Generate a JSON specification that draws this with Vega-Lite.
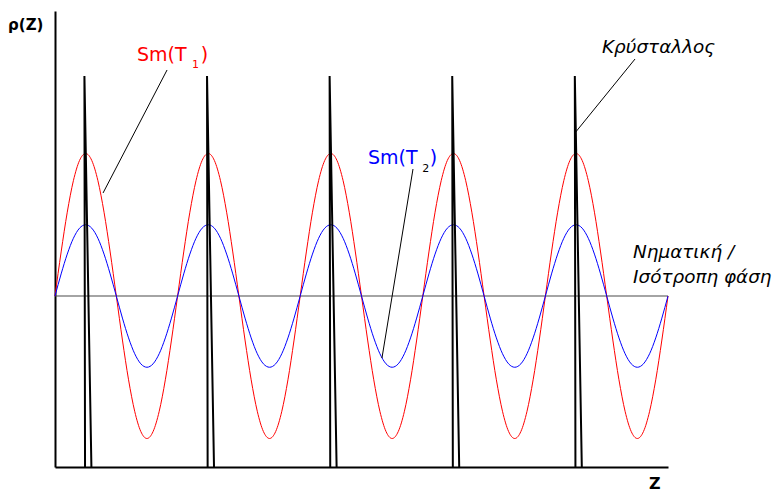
{
  "$schema": "https://vega.github.io/schema/vega-lite/v6.json",
  "width": 613,
  "height": 456,
  "autosize": {"type": "none"},
  "padding": {"left": 55, "top": 11, "right": 112, "bottom": 26},
  "background": "white",
  "config": {"view": {"stroke": null}, "text": {"font": "DejaVu Sans"}},
  "datasets": {
    "wave": [
      {"x":0,"r":0,"b":0},{"x":0.05,"r":0.309,"b":0.155},{"x":0.1,"r":0.588,"b":0.294},{"x":0.15,"r":0.809,"b":0.405},{"x":0.2,"r":0.951,"b":0.476},{"x":0.25,"r":1,"b":0.5},{"x":0.3,"r":0.951,"b":0.476},{"x":0.35,"r":0.809,"b":0.405},{"x":0.4,"r":0.588,"b":0.294},{"x":0.45,"r":0.309,"b":0.155},{"x":0.5,"r":0,"b":0},{"x":0.55,"r":-0.309,"b":-0.155},{"x":0.6,"r":-0.588,"b":-0.294},{"x":0.65,"r":-0.809,"b":-0.405},{"x":0.7,"r":-0.951,"b":-0.476},{"x":0.75,"r":-1,"b":-0.5},{"x":0.8,"r":-0.951,"b":-0.476},{"x":0.85,"r":-0.809,"b":-0.405},{"x":0.9,"r":-0.588,"b":-0.294},{"x":0.95,"r":-0.309,"b":-0.155},
      {"x":1,"r":0,"b":0},{"x":1.05,"r":0.309,"b":0.155},{"x":1.1,"r":0.588,"b":0.294},{"x":1.15,"r":0.809,"b":0.405},{"x":1.2,"r":0.951,"b":0.476},{"x":1.25,"r":1,"b":0.5},{"x":1.3,"r":0.951,"b":0.476},{"x":1.35,"r":0.809,"b":0.405},{"x":1.4,"r":0.588,"b":0.294},{"x":1.45,"r":0.309,"b":0.155},{"x":1.5,"r":0,"b":0},{"x":1.55,"r":-0.309,"b":-0.155},{"x":1.6,"r":-0.588,"b":-0.294},{"x":1.65,"r":-0.809,"b":-0.405},{"x":1.7,"r":-0.951,"b":-0.476},{"x":1.75,"r":-1,"b":-0.5},{"x":1.8,"r":-0.951,"b":-0.476},{"x":1.85,"r":-0.809,"b":-0.405},{"x":1.9,"r":-0.588,"b":-0.294},{"x":1.95,"r":-0.309,"b":-0.155},
      {"x":2,"r":0,"b":0},{"x":2.05,"r":0.309,"b":0.155},{"x":2.1,"r":0.588,"b":0.294},{"x":2.15,"r":0.809,"b":0.405},{"x":2.2,"r":0.951,"b":0.476},{"x":2.25,"r":1,"b":0.5},{"x":2.3,"r":0.951,"b":0.476},{"x":2.35,"r":0.809,"b":0.405},{"x":2.4,"r":0.588,"b":0.294},{"x":2.45,"r":0.309,"b":0.155},{"x":2.5,"r":0,"b":0},{"x":2.55,"r":-0.309,"b":-0.155},{"x":2.6,"r":-0.588,"b":-0.294},{"x":2.65,"r":-0.809,"b":-0.405},{"x":2.7,"r":-0.951,"b":-0.476},{"x":2.75,"r":-1,"b":-0.5},{"x":2.8,"r":-0.951,"b":-0.476},{"x":2.85,"r":-0.809,"b":-0.405},{"x":2.9,"r":-0.588,"b":-0.294},{"x":2.95,"r":-0.309,"b":-0.155},
      {"x":3,"r":0,"b":0},{"x":3.05,"r":0.309,"b":0.155},{"x":3.1,"r":0.588,"b":0.294},{"x":3.15,"r":0.809,"b":0.405},{"x":3.2,"r":0.951,"b":0.476},{"x":3.25,"r":1,"b":0.5},{"x":3.3,"r":0.951,"b":0.476},{"x":3.35,"r":0.809,"b":0.405},{"x":3.4,"r":0.588,"b":0.294},{"x":3.45,"r":0.309,"b":0.155},{"x":3.5,"r":0,"b":0},{"x":3.55,"r":-0.309,"b":-0.155},{"x":3.6,"r":-0.588,"b":-0.294},{"x":3.65,"r":-0.809,"b":-0.405},{"x":3.7,"r":-0.951,"b":-0.476},{"x":3.75,"r":-1,"b":-0.5},{"x":3.8,"r":-0.951,"b":-0.476},{"x":3.85,"r":-0.809,"b":-0.405},{"x":3.9,"r":-0.588,"b":-0.294},{"x":3.95,"r":-0.309,"b":-0.155},
      {"x":4,"r":0,"b":0},{"x":4.05,"r":0.309,"b":0.155},{"x":4.1,"r":0.588,"b":0.294},{"x":4.15,"r":0.809,"b":0.405},{"x":4.2,"r":0.951,"b":0.476},{"x":4.25,"r":1,"b":0.5},{"x":4.3,"r":0.951,"b":0.476},{"x":4.35,"r":0.809,"b":0.405},{"x":4.4,"r":0.588,"b":0.294},{"x":4.45,"r":0.309,"b":0.155},{"x":4.5,"r":0,"b":0},{"x":4.55,"r":-0.309,"b":-0.155},{"x":4.6,"r":-0.588,"b":-0.294},{"x":4.65,"r":-0.809,"b":-0.405},{"x":4.7,"r":-0.951,"b":-0.476},{"x":4.75,"r":-1,"b":-0.5},{"x":4.8,"r":-0.951,"b":-0.476},{"x":4.85,"r":-0.809,"b":-0.405},{"x":4.9,"r":-0.588,"b":-0.294},{"x":4.95,"r":-0.309,"b":-0.155},
      {"x":5,"r":0,"b":0}
    ],
    "spikes": [
      {"s":0,"o":0,"x":0.245,"y":-1.2},{"s":0,"o":1,"x":0.24,"y":1.544},{"s":0,"o":2,"x":0.297,"y":-1.2},
      {"s":1,"o":0,"x":1.245,"y":-1.2},{"s":1,"o":1,"x":1.24,"y":1.544},{"s":1,"o":2,"x":1.297,"y":-1.2},
      {"s":2,"o":0,"x":2.245,"y":-1.2},{"s":2,"o":1,"x":2.24,"y":1.544},{"s":2,"o":2,"x":2.297,"y":-1.2},
      {"s":3,"o":0,"x":3.245,"y":-1.2},{"s":3,"o":1,"x":3.24,"y":1.544},{"s":3,"o":2,"x":3.297,"y":-1.2},
      {"s":4,"o":0,"x":4.245,"y":-1.2},{"s":4,"o":1,"x":4.24,"y":1.544},{"s":4,"o":2,"x":4.297,"y":-1.2}
    ],
    "leaders": [
      {"id":1,"o":0,"x":0.914,"y":1.586},{"id":1,"o":1,"x":0.392,"y":0.723},
      {"id":2,"o":0,"x":2.92,"y":0.891},{"id":2,"o":1,"x":2.667,"y":-0.435},
      {"id":3,"o":0,"x":4.731,"y":1.663},{"id":3,"o":1,"x":4.241,"y":1.144}
    ]
  },
  "layer": [
    {
      "data": {"values": [{"x":0,"x2":5,"y":0}]},
      "mark": {"type": "rule", "color": "#4a4a4a", "strokeWidth": 1.2},
      "encoding": {
        "x": {"field":"x","type":"quantitative","scale":{"domain":[0,5],"nice":false,"zero":false},
              "axis":{"orient":"bottom","domain":true,"domainColor":"black","domainWidth":2,"ticks":false,"labels":false,"grid":false,"title":null}},
        "x2": {"field":"x2"},
        "y": {"field":"y","type":"quantitative","scale":{"domain":[-1.2,2.0],"nice":false,"zero":false},
              "axis":{"orient":"left","domain":true,"domainColor":"black","domainWidth":2,"ticks":false,"labels":false,"grid":false,"title":null}}
      }
    },
    {
      "data": {"name": "wave"},
      "mark": {"type": "line", "color": "#ff0000", "strokeWidth": 1, "interpolate": "monotone"},
      "encoding": {
        "x": {"field":"x","type":"quantitative"},
        "y": {"field":"r","type":"quantitative"}
      }
    },
    {
      "data": {"name": "wave"},
      "mark": {"type": "line", "color": "#0000ff", "strokeWidth": 1, "interpolate": "monotone"},
      "encoding": {
        "x": {"field":"x","type":"quantitative"},
        "y": {"field":"b","type":"quantitative"}
      }
    },
    {
      "data": {"name": "spikes"},
      "mark": {"type": "line", "color": "black", "strokeWidth": 2},
      "encoding": {
        "x": {"field":"x","type":"quantitative"},
        "y": {"field":"y","type":"quantitative"},
        "detail": {"field":"s"},
        "order": {"field":"o"}
      }
    },
    {
      "data": {"name": "leaders"},
      "mark": {"type": "line", "color": "black", "strokeWidth": 1},
      "encoding": {
        "x": {"field":"x","type":"quantitative"},
        "y": {"field":"y","type":"quantitative"},
        "detail": {"field":"id"},
        "order": {"field":"o"}
      }
    },
    {
      "data": {"values": [{"t":"Sm(T","x":0.669,"y":1.649},{"t":")","x":1.188,"y":1.649}]},
      "mark": {"type": "text", "color": "#ff0000", "fontSize": 19, "align": "left", "baseline": "alphabetic"},
      "encoding": {"x": {"field":"x","type":"quantitative"}, "y": {"field":"y","type":"quantitative"}, "text": {"field":"t"}}
    },
    {
      "data": {"values": [{"t":"1","x":1.118,"y":1.6}]},
      "mark": {"type": "text", "color": "#ff0000", "fontSize": 11, "align": "left", "baseline": "alphabetic"},
      "encoding": {"x": {"field":"x","type":"quantitative"}, "y": {"field":"y","type":"quantitative"}, "text": {"field":"t"}}
    },
    {
      "data": {"values": [{"t":"Sm(T","x":2.553,"y":0.926},{"t":")","x":3.056,"y":0.926}]},
      "mark": {"type": "text", "color": "#0000ff", "fontSize": 19, "align": "left", "baseline": "alphabetic"},
      "encoding": {"x": {"field":"x","type":"quantitative"}, "y": {"field":"y","type":"quantitative"}, "text": {"field":"t"}}
    },
    {
      "data": {"values": [{"t":"2","x":2.995,"y":0.87}]},
      "mark": {"type": "text", "color": "black", "fontSize": 11, "align": "left", "baseline": "alphabetic"},
      "encoding": {"x": {"field":"x","type":"quantitative"}, "y": {"field":"y","type":"quantitative"}, "text": {"field":"t"}}
    },
    {
      "data": {"values": [{"t":"Κρύσταλλος","x":4.462,"y":1.705},{"t":"Νηματική /","x":4.715,"y":0.267},{"t":"Ισότροπη φάση","x":4.715,"y":0.091}]},
      "mark": {"type": "text", "color": "black", "fontSize": 18.4, "fontStyle": "italic", "align": "left", "baseline": "alphabetic"},
      "encoding": {"x": {"field":"x","type":"quantitative"}, "y": {"field":"y","type":"quantitative"}, "text": {"field":"t"}}
    },
    {
      "data": {"values": [{"t":"ρ(Z)","x":-0.383,"y":1.867}]},
      "mark": {"type": "text", "color": "black", "fontSize": 15, "fontWeight": "bold", "align": "left", "baseline": "alphabetic"},
      "encoding": {"x": {"field":"x","type":"quantitative"}, "y": {"field":"y","type":"quantitative"}, "text": {"field":"t"}}
    },
    {
      "data": {"values": [{"t":"Z","x":4.845,"y":-1.355}]},
      "mark": {"type": "text", "color": "black", "fontSize": 16, "fontWeight": "bold", "align": "left", "baseline": "alphabetic"},
      "encoding": {"x": {"field":"x","type":"quantitative"}, "y": {"field":"y","type":"quantitative"}, "text": {"field":"t"}}
    }
  ]
}
